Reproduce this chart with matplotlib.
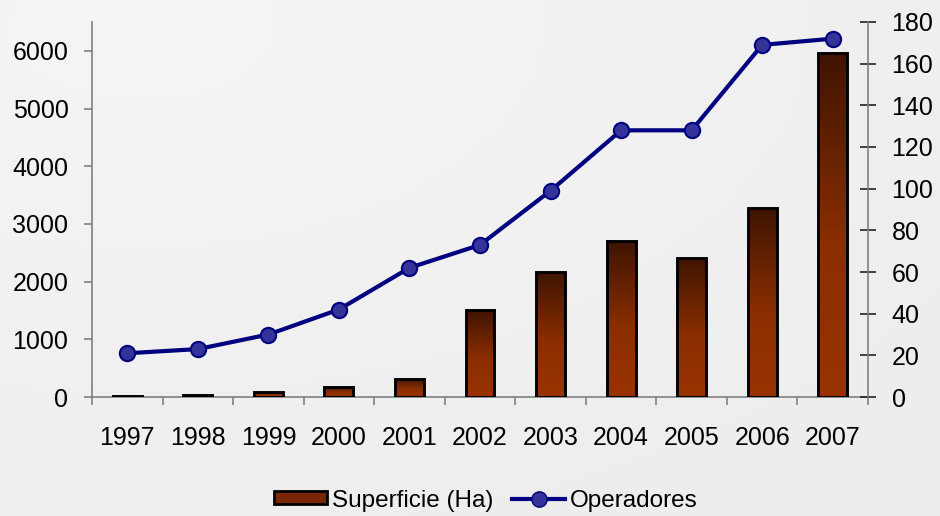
import numpy as np
import matplotlib
matplotlib.use("Agg")
import matplotlib.pyplot as plt
from matplotlib.colors import LinearSegmentedColormap
from matplotlib.patches import Patch
from matplotlib.lines import Line2D

years = ["1997", "1998", "1999", "2000", "2001", "2002", "2003", "2004", "2005", "2006", "2007"]
superficie = [25, 40, 80, 180, 320, 1500, 2170, 2700, 2410, 3280, 5970]
operadores = [21, 23, 30, 42, 62, 73, 99, 128, 128, 169, 172]
left_ticks = [0, 1000, 2000, 3000, 4000, 5000, 6000]
right_ticks = [0, 20, 40, 60, 80, 100, 120, 140, 160, 180]

plt.rcParams['font.family'] = ['Liberation Sans', 'DejaVu Sans']

fig = plt.figure(figsize=(9.4, 5.16), dpi=100)
fig.patch.set_facecolor('#eeeeee')

# subtle background gradient
bg = fig.add_axes([0, 0, 1, 1], zorder=-10)
yy, xx = np.mgrid[0:1:200j, 0:1:300j]
grad = np.sqrt((xx - 0.15) ** 2 + (yy - 0.05) ** 2)
bg_cmap = LinearSegmentedColormap.from_list('bg', ['#f5f5f6', '#ececec'])
bg.imshow(grad, cmap=bg_cmap, aspect='auto', extent=[0, 1, 1, 0])
bg.axis('off')

ax = fig.add_axes([0.0979, 0.2306, 0.8255, 0.7268])
ax.patch.set_alpha(0)
x = np.arange(len(years))
bar_w = 0.41
bars = ax.bar(x, superficie, width=bar_w, facecolor='none', edgecolor='black',
              linewidth=2.1, zorder=3)

bar_cmap = LinearSegmentedColormap.from_list('bar', [(0, '#993300'), (0.45, '#8a2e00'), (1, '#3e1400')])
g = np.linspace(0, 1, 256).reshape(-1, 1)
for b in bars:
    x0, y0 = b.get_x(), b.get_y()
    w, h = b.get_width(), b.get_height()
    im = ax.imshow(g, cmap=bar_cmap, aspect='auto', origin='lower',
                   extent=[x0, x0 + w, y0, y0 + h], zorder=2)
    im.set_clip_path(b)

ax.set_xlim(-0.5, len(years) - 0.5)
ax.set_ylim(0, 6500)
ax.set_yticks(left_ticks)
ax.set_yticklabels([str(v) for v in left_ticks])
ax.set_xticks(x)
ax.set_xticklabels(years)
ax.set_xticks(np.arange(-0.5, len(years), 1), minor=True)
ax.tick_params(axis='x', which='major', length=0, pad=21, labelsize=18)
ax.tick_params(axis='x', which='minor', length=6, width=1.2, color='#808080', direction='out')
ax.tick_params(axis='y', length=6, width=1.2, color='#808080', direction='out', pad=11, labelsize=18)
for s in ['top', 'right']:
    ax.spines[s].set_visible(False)
for s in ['left', 'bottom']:
    ax.spines[s].set_color('#808080')
    ax.spines[s].set_linewidth(1.2)

ax2 = ax.twinx()
ax2.set_ylim(0, 180)
ax2.set_yticks(right_ticks)
ax2.set_yticklabels([str(v) for v in right_ticks])
ax2.tick_params(axis='y', length=12, width=1.2, color='#222222', direction='inout', pad=11, labelsize=18)
for s in ['top', 'left', 'bottom']:
    ax2.spines[s].set_visible(False)
ax2.spines['right'].set_color('#808080')
ax2.spines['right'].set_linewidth(1.2)
ax2.plot(x, operadores, color='#000080', linewidth=3, marker='o', markersize=11,
         markerfacecolor='#333399', markeredgecolor='#000080', markeredgewidth=1.5, zorder=5)

handles = [Patch(facecolor='#7a2600', edgecolor='black', linewidth=2),
           Line2D([], [], color='#000080', linewidth=3, marker='o', markersize=11,
                  markerfacecolor='#333399', markeredgecolor='#000080')]
fig.legend(handles, ['Superficie (Ha)', 'Operadores'], loc='center', bbox_to_anchor=(0.517, 0.03),
           ncol=2, frameon=False, fontsize=17.5, handlelength=2.2, handleheight=0.45,
           handletextpad=0.2, columnspacing=0.75)

fig.savefig('out.png', dpi=100, facecolor=fig.get_facecolor())
